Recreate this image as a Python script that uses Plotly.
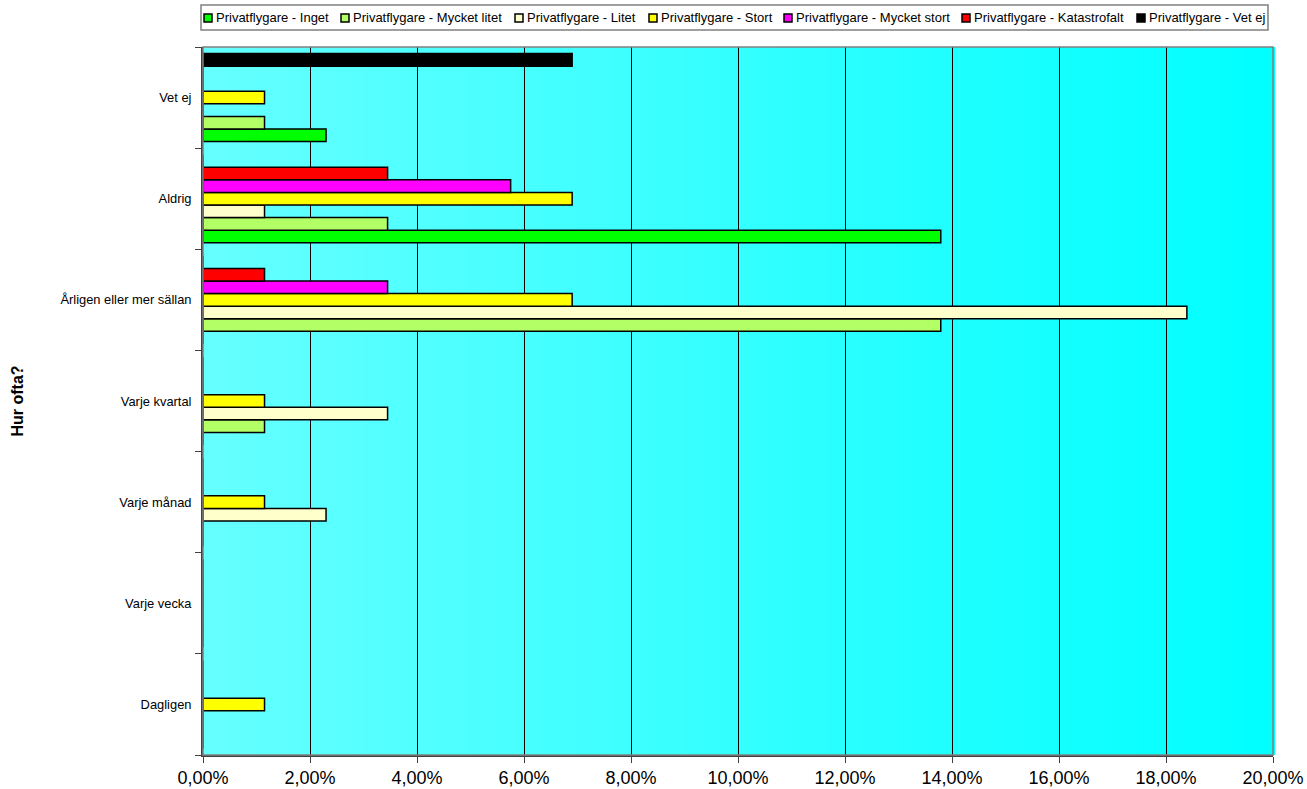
import plotly.graph_objects as go

categories = ["Dagligen", "Varje vecka", "Varje månad", "Varje kvartal",
              "Årligen eller mer sällan", "Aldrig", "Vet ej"]

series_names = ["Privatflygare - Inget", "Privatflygare - Mycket litet",
                "Privatflygare - Litet", "Privatflygare - Stort",
                "Privatflygare - Mycket stort", "Privatflygare - Katastrofalt",
                "Privatflygare - Vet ej"]

inget = [0, 0, 0, 0, 0, 13.79, 2.30]
mycket_litet = [0, 0, 0, 1.15, 13.79, 3.45, 1.15]
litet = [0, 0, 2.30, 3.45, 18.39, 1.15, 0]
stort = [1.15, 0, 1.15, 1.15, 6.90, 6.90, 1.15]
mycket_stort = [0, 0, 0, 0, 3.45, 5.75, 0]
katastrofalt = [0, 0, 0, 0, 1.15, 3.45, 0]
vet_ej = [0, 0, 0, 0, 0, 0, 6.90]

x_ticks = [0, 2, 4, 6, 8, 10, 12, 14, 16, 18, 20]
x_tick_labels = ["0,00%", "2,00%", "4,00%", "6,00%", "8,00%", "10,00%",
                 "12,00%", "14,00%", "16,00%", "18,00%", "20,00%"]

series_values = [inget, mycket_litet, litet, stort, mycket_stort, katastrofalt, vet_ej]
colors = ["#00FF00", "#B2FF66", "#FFFFCC", "#FFFF00", "#FF00FF", "#FF0000", "#000000"]

# figure geometry (pixels)
W, H = 1307, 789
ML, MR, MT, MB = 203, 34, 47, 34
PW, PH = W - ML - MR, H - MT - MB

def px_x(px):
    return (px - ML) / PW

def px_y(py):
    return (H - MB - py) / PH

fig = go.Figure()
for name, vals, col in zip(series_names, series_values, colors):
    fig.add_trace(go.Bar(
        y=categories, x=vals, name=name, orientation="h", showlegend=False,
        marker=dict(color=col, line=dict(color="#000000", width=1.5)),
    ))

# horizontal gradient background (#66FFFF -> #00FFFF)
shapes = []
n = 120
for i in range(n):
    t = (i + 0.5) / n
    r = int(round(0x66 * (1 - t)))
    shapes.append(dict(type="rect", xref="x domain", yref="y domain",
                       x0=i / n, x1=(i + 1) / n + 0.002, y0=0, y1=1,
                       fillcolor=f"rgb({r},255,255)", line=dict(width=0),
                       layer="below"))
shapes.append(dict(type="rect", xref="x domain", yref="y domain",
                   x0=0, x1=1, y0=0, y1=1, line=dict(color="#808080", width=1.5),
                   layer="above"))

# custom legend (box, swatches, labels)
legend_box = (201, 5, 1268, 30)
legend_swatch_px = [204, 341, 515, 649, 784, 962, 1137]
shapes.append(dict(type="rect", xref="paper", yref="paper",
                   x0=px_x(legend_box[0]), x1=px_x(legend_box[2]),
                   y0=px_y(legend_box[3]), y1=px_y(legend_box[1]),
                   fillcolor="white", line=dict(color="#808080", width=1.5)))
annotations = []
yc = 18
for sx, name, col in zip(legend_swatch_px, series_names, colors):
    shapes.append(dict(type="rect", xref="paper", yref="paper",
                       x0=px_x(sx), x1=px_x(sx + 8), y0=px_y(yc + 4), y1=px_y(yc - 4),
                       fillcolor=col, line=dict(color="#000000", width=1.5)))
    annotations.append(dict(x=px_x(sx + 10), y=px_y(yc), xref="paper", yref="paper",
                            text=name, showarrow=False, xanchor="left", yanchor="middle",
                            font=dict(size=13, color="#000000")))

fig.update_layout(
    width=W, height=H,
    margin=dict(l=ML, r=MR, t=MT, b=MB, autoexpand=False),
    paper_bgcolor="white", plot_bgcolor="rgba(0,0,0,0)",
    barmode="group", bargap=0.13, bargroupgap=0,
    font=dict(family="Liberation Sans, Arial", size=12, color="#000000"),
    shapes=shapes, annotations=annotations, showlegend=False,
    xaxis=dict(range=[0, 20], tickvals=x_ticks, ticktext=x_tick_labels,
               showgrid=True, gridcolor="#000000", gridwidth=1,
               zeroline=False, showline=True, linecolor="#404040", linewidth=1.5,
               ticks="outside", ticklen=6, tickcolor="#404040",
               tickfont=dict(size=18), fixedrange=True),
    yaxis=dict(categoryorder="array", categoryarray=categories,
               showgrid=False, zeroline=False, showline=True,
               linecolor="#404040", linewidth=1.5,
               ticks="outside", tickson="boundaries", ticklen=6, tickcolor="#404040",
               tickfont=dict(size=12.9), ticksuffix="  ",
               title=dict(text="<b>Hur ofta?</b>", font=dict(size=16), standoff=33),
               fixedrange=True),
)

fig.write_html("out.html", config={"displayModeBar": False},
               post_script="document.body.style.margin='0px';")
